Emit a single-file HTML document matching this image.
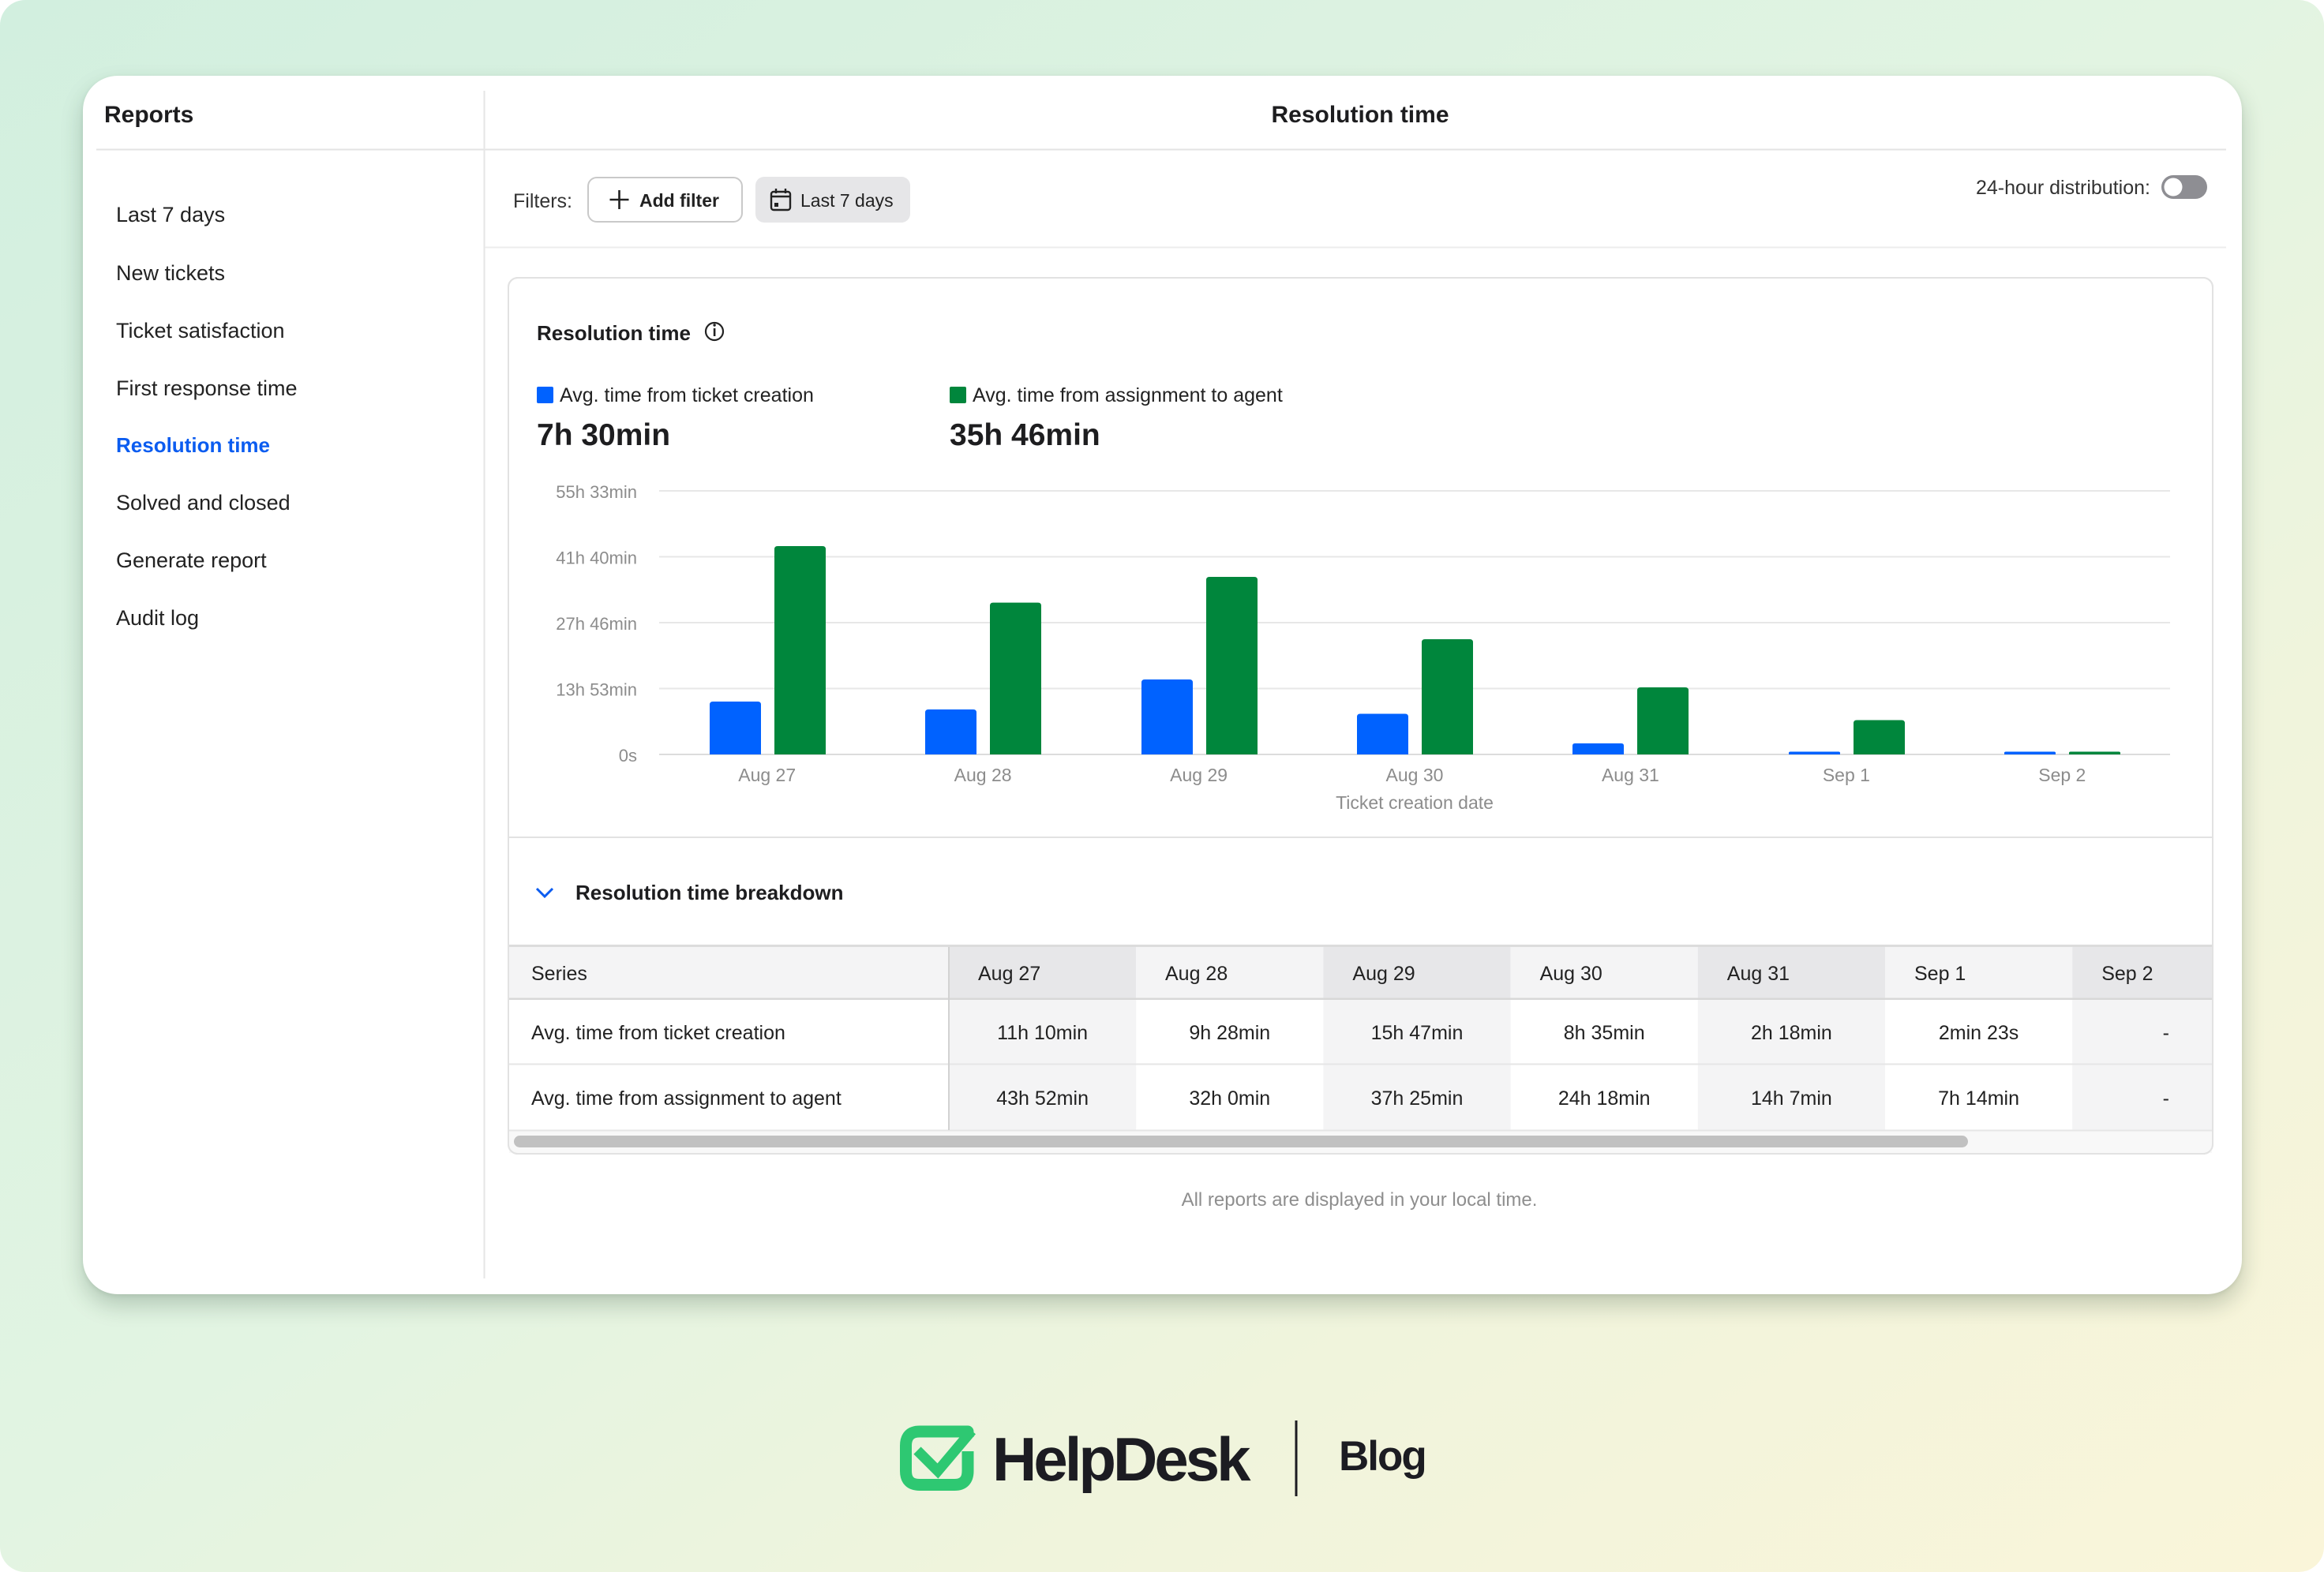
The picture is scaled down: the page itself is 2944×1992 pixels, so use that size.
<!DOCTYPE html>
<html><head><meta charset="utf-8"><style>
html,body{margin:0;padding:0;background:#fff;width:2944px;height:1992px;overflow:hidden;}
#bg{position:absolute;left:0;top:0;width:2944px;height:1992px;border-radius:32px;overflow:hidden;
background:linear-gradient(to bottom right,#d2efdf 0%,#e2f4e2 48%,#f0f4dc 72%,#faf5d9 100%);}
#card{position:absolute;left:105px;top:96px;width:2735px;height:1544px;background:#fff;border-radius:44px;
box-shadow:0 14px 28px rgba(20,50,30,0.22),0 2px 6px rgba(20,50,30,0.08);}
svg{position:absolute;left:0;top:0;overflow:hidden;}
</style></head><body>
<div id="bg"></div>
<div id="card"></div>
<svg width="2944" height="1992" viewBox="0 0 2944 1992" font-family="'Liberation Sans', Arial, sans-serif">
<!-- header/dividers -->
<rect x="122" y="188.5" width="2698" height="2" fill="#e3e3e3"/>
<rect x="612.5" y="115" width="2" height="1505" fill="#e6e6e6"/>
<rect x="614" y="312.5" width="2206" height="2" fill="#ececec"/>
<text x="132" y="155" font-size="30" font-weight="bold" fill="#1d1d1f">Reports</text>
<text x="1723" y="155" font-size="30" font-weight="bold" fill="#1d1d1f" text-anchor="middle">Resolution time</text>

<!-- sidebar -->
<g font-size="27" fill="#222">
<text x="147" y="281">Last 7 days</text>
<text x="147" y="355">New tickets</text>
<text x="147" y="428">Ticket satisfaction</text>
<text x="147" y="501">First response time</text>
<text x="147" y="573" fill="#0b5cf0" font-weight="bold" font-size="26">Resolution time</text>
<text x="147" y="646">Solved and closed</text>
<text x="147" y="719">Generate report</text>
<text x="147" y="792">Audit log</text>
</g>

<!-- filters -->
<text x="650" y="263" font-size="25" fill="#333">Filters:</text>
<rect x="745" y="225" width="195" height="56" rx="11" fill="#fff" stroke="#c9c9c9" stroke-width="2"/>
<path d="M784.5 241 V265 M772.5 253 H796.5" stroke="#222" stroke-width="2.6"/>
<text x="810" y="262" font-size="23" font-weight="bold" fill="#222">Add filter</text>
<rect x="957" y="224" width="196" height="58" rx="11" fill="#e6e6e8"/>
<rect x="977" y="243" width="24" height="23" rx="3" fill="none" stroke="#222" stroke-width="2.4"/>
<path d="M977 249 H1001 M983 239 V245 M995 239 V245" stroke="#222" stroke-width="2.4"/>
<rect x="981" y="257" width="5" height="5" fill="#222"/>
<text x="1014" y="262" font-size="23" fill="#222">Last 7 days</text>
<text x="2503" y="246" font-size="25" fill="#333">24-hour distribution:</text>
<rect x="2738" y="222" width="58" height="30" rx="15" fill="#8e8e93"/>
<circle cx="2753" cy="237" r="11.5" fill="#fff"/>

<!-- chart card -->
<rect x="644" y="352" width="2159" height="1110" rx="12" fill="#fff" stroke="#e2e2e2" stroke-width="2"/>
<text x="680" y="431" font-size="26" font-weight="bold" fill="#1d1d1f">Resolution time</text>
<circle cx="905" cy="420" r="11" fill="none" stroke="#222" stroke-width="2.2"/>
<rect x="903.8" y="416" width="2.6" height="10" fill="#222"/>
<circle cx="905.1" cy="412" r="1.7" fill="#222"/>

<rect x="680" y="490" width="21" height="21" rx="2" fill="#0062ff"/>
<text x="709" y="509" font-size="25" fill="#222">Avg. time from ticket creation</text>
<rect x="1203" y="490" width="21" height="21" rx="2" fill="#00863c"/>
<text x="1232" y="509" font-size="25" fill="#222">Avg. time from assignment to agent</text>
<text x="680" y="564" font-size="39" font-weight="bold" fill="#1d1d1f">7h 30min</text>
<text x="1203" y="564" font-size="39" font-weight="bold" fill="#1d1d1f">35h 46min</text>

<!-- grid -->
<g fill="#e7e7e7">
<rect x="835" y="621" width="1914" height="2"/>
<rect x="835" y="704.5" width="1914" height="2"/>
<rect x="835" y="788" width="1914" height="2"/>
<rect x="835" y="871.5" width="1914" height="2"/>
<rect x="835" y="955" width="1914" height="2" fill="#dcdcdc"/>
</g>
<g font-size="22" fill="#8c8c8c" text-anchor="end">
<text x="807" y="631">55h 33min</text>
<text x="807" y="714.5">41h 40min</text>
<text x="807" y="798">27h 46min</text>
<text x="807" y="881.5">13h 53min</text>
<text x="807" y="965">0s</text>
</g>

<!-- bars -->
<g fill="#0062ff">
<path d="M899 956 V893 Q899 889 903 889 H960 Q964 889 964 893 V956 Z"/>
<path d="M1172 956 V903 Q1172 899 1176 899 H1233 Q1237 899 1237 903 V956 Z"/>
<path d="M1446 956 V865 Q1446 861 1450 861 H1507 Q1511 861 1511 865 V956 Z"/>
<path d="M1719 956 V908.5 Q1719 904.5 1723 904.5 H1780 Q1784 904.5 1784 908.5 V956 Z"/>
<path d="M1992 956 V945 Q1992 942 1995 942 H2054 Q2057 942 2057 945 V956 Z"/>
<path d="M2266 956 V954 Q2266 952.5 2268 952.5 H2329 Q2331 952.5 2331 954 V956 Z"/>
<path d="M2539 956 V954 Q2539 952.5 2541 952.5 H2602 Q2604 952.5 2604 954 V956 Z"/>
</g>
<g fill="#00863c">
<path d="M981 956 V696 Q981 692 985 692 H1042 Q1046 692 1046 696 V956 Z"/>
<path d="M1254 956 V767.6 Q1254 763.6 1258 763.6 H1315 Q1319 763.6 1319 767.6 V956 Z"/>
<path d="M1528 956 V735 Q1528 731 1532 731 H1589 Q1593 731 1593 735 V956 Z"/>
<path d="M1801 956 V814 Q1801 810 1805 810 H1862 Q1866 810 1866 814 V956 Z"/>
<path d="M2074 956 V875 Q2074 871 2078 871 H2135 Q2139 871 2139 875 V956 Z"/>
<path d="M2348 956 V916.5 Q2348 912.5 2352 912.5 H2409 Q2413 912.5 2413 916.5 V956 Z"/>
<path d="M2621 956 V954 Q2621 952.5 2623 952.5 H2684 Q2686 952.5 2686 954 V956 Z"/>
</g>
<g font-size="23" fill="#8c8c8c" text-anchor="middle">
<text x="971.7" y="990">Aug 27</text>
<text x="1245.1" y="990">Aug 28</text>
<text x="1518.6" y="990">Aug 29</text>
<text x="1792" y="990">Aug 30</text>
<text x="2065.4" y="990">Aug 31</text>
<text x="2338.9" y="990">Sep 1</text>
<text x="2612.3" y="990">Sep 2</text>
<text x="1792" y="1025">Ticket creation date</text>
</g>

<rect x="645" y="1060" width="2157" height="2" fill="#e2e2e2"/>
<path d="M680 1126 L690 1136 L700 1126" fill="none" stroke="#0b5cf0" stroke-width="3"/>
<text x="729" y="1140" font-size="26" font-weight="bold" fill="#1d1d1f">Resolution time breakdown</text>

<!-- table -->
<rect x="645" y="1197" width="2157" height="3" fill="#dcdcdc"/>
<rect x="645" y="1200" width="557" height="65" fill="#f4f4f5"/>
<rect x="1202" y="1200" width="237.2" height="65" fill="#e7e7e9"/>
<rect x="1439.2" y="1200" width="237.2" height="65" fill="#f4f4f5"/>
<rect x="1676.4" y="1200" width="237.2" height="65" fill="#e7e7e9"/>
<rect x="1913.6" y="1200" width="237.2" height="65" fill="#f4f4f5"/>
<rect x="2150.8" y="1200" width="237.2" height="65" fill="#e7e7e9"/>
<rect x="2388" y="1200" width="237.2" height="65" fill="#f4f4f5"/>
<rect x="2625.2" y="1200" width="176.8" height="65" fill="#e7e7e9"/>
<g fill="#f4f4f5">
<rect x="1202" y="1266" width="237.2" height="167"/>
<rect x="1676.4" y="1266" width="237.2" height="167"/>
<rect x="2150.8" y="1266" width="237.2" height="167"/>
<rect x="2625.2" y="1266" width="176.8" height="167"/>
</g>
<rect x="645" y="1264.5" width="2157" height="2.5" fill="#d8d8d8"/>
<rect x="645" y="1347.5" width="2157" height="2" fill="#e6e6e6"/>
<rect x="645" y="1431.5" width="2157" height="2" fill="#e6e6e6"/>
<rect x="645" y="1433.5" width="2157" height="27.5" fill="#f8f8f8"/>
<rect x="651" y="1439" width="1842" height="15" rx="7.5" fill="#c1c1c1"/>
<rect x="1201" y="1200" width="2" height="232" fill="#d2d2d2"/>

<g font-size="25" fill="#222">
<text x="673" y="1242">Series</text>
<text x="1239" y="1242">Aug 27</text>
<text x="1476" y="1242">Aug 28</text>
<text x="1713.4" y="1242">Aug 29</text>
<text x="1950.6" y="1242">Aug 30</text>
<text x="2187.8" y="1242">Aug 31</text>
<text x="2425" y="1242">Sep 1</text>
<text x="2662.2" y="1242">Sep 2</text>
<text x="673" y="1317">Avg. time from ticket creation</text>
<text x="673" y="1400">Avg. time from assignment to agent</text>
</g>
<g font-size="25" fill="#222" text-anchor="middle">
<text x="1320.6" y="1317">11h 10min</text>
<text x="1557.8" y="1317">9h 28min</text>
<text x="1795" y="1317">15h 47min</text>
<text x="2032.2" y="1317">8h 35min</text>
<text x="2269.4" y="1317">2h 18min</text>
<text x="2506.6" y="1317">2min 23s</text>
<text x="2743.8" y="1317">-</text>
<text x="1320.6" y="1400">43h 52min</text>
<text x="1557.8" y="1400">32h 0min</text>
<text x="1795" y="1400">37h 25min</text>
<text x="2032.2" y="1400">24h 18min</text>
<text x="2269.4" y="1400">14h 7min</text>
<text x="2506.6" y="1400">7h 14min</text>
<text x="2743.8" y="1400">-</text>
</g>
<rect x="644" y="352" width="2159" height="1110" rx="12" fill="none" stroke="#e2e2e2" stroke-width="2"/>

<text x="1722" y="1528" font-size="24" fill="#8e8e8e" text-anchor="middle">All reports are displayed in your local time.</text>

<!-- logo -->
<path d="M1226 1839 V1864 Q1226 1881.5 1209 1881.5 H1165 Q1147.5 1881.5 1147.5 1864 V1832 Q1147.5 1814 1165 1814 H1226 V1821" fill="none" stroke="#2ec872" stroke-width="15" stroke-linejoin="round"/>
<path d="M1162 1838 L1188 1864 L1231 1813" fill="none" stroke="#2ec872" stroke-width="13"/>
<text x="1257" y="1876" font-size="78" font-weight="bold" fill="#1c1c22" letter-spacing="-4">HelpDesk</text>
<rect x="1640.5" y="1800" width="3" height="96" fill="#1c1c22"/>
<text x="1696" y="1863" font-size="53" font-weight="bold" fill="#1c1c22" letter-spacing="-2">Blog</text>
</svg>
</body></html>
